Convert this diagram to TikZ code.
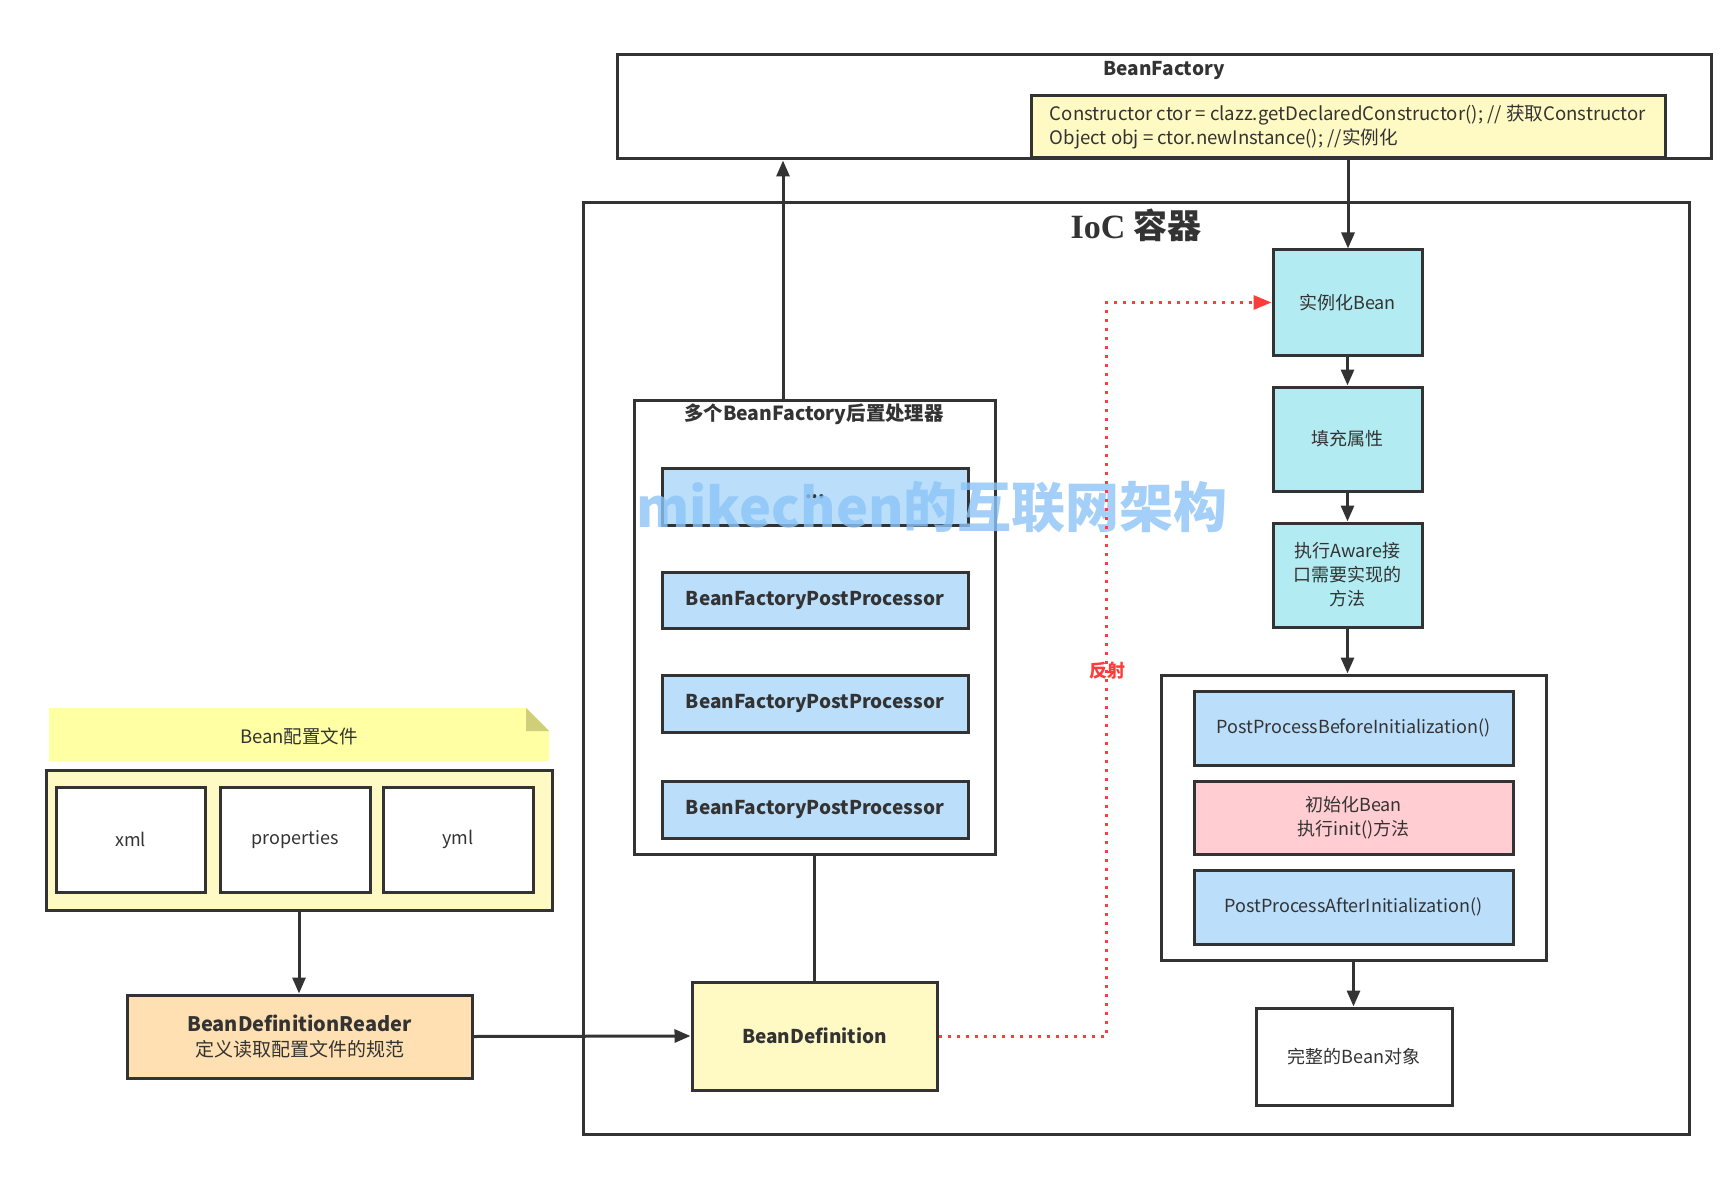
\documentclass[tikz,border=0pt]{standalone}
\usepackage{fontspec}
\setmainfont{Noto Sans CJK SC}
\newfontfamily\iocserif{Liberation Serif}
\usetikzlibrary{arrows.meta,calc}
\definecolor{ink}{HTML}{333333}
\definecolor{bluebox}{HTML}{BBDEFB}
\definecolor{cyanbox}{HTML}{B2EBF2}
\definecolor{pinkbox}{HTML}{FFCDD2}
\definecolor{yelbox}{HTML}{FFF9C4}
\definecolor{peachbox}{HTML}{FFE0B2}
\definecolor{notefill}{HTML}{FFFFA3}
\definecolor{notefold}{HTML}{CFCF7A}
\definecolor{redline}{HTML}{FF3B3B}
\definecolor{wmark}{HTML}{8CC4F8}
\tikzset{
  bx/.style={draw=ink, line width=3pt, rectangle, inner sep=0pt, text=ink, font=\fontsize{18}{24}\selectfont, align=center},
  bold/.style={font=\fontsize{19}{24}\selectfont\bfseries},
  arr/.style={draw=ink, line width=3pt, -{Triangle[length=16pt,width=13pt]}},
  plain/.style={draw=ink, line width=3pt},
  reddot/.style={draw=redline, line width=3pt, dash pattern=on 3pt off 6pt, -{Triangle[length=18pt,width=14pt]}},
}
\begin{document}
\begin{tikzpicture}[x=1pt,y=-1pt]
\useasboundingbox[fill=white] (0,0) rectangle (1722,1185);
% BeanFactory
\node[bx, minimum width=1094pt, minimum height=104pt] (bf) at (1164,107) {};
\node[text=ink, font=\fontsize{19}{24}\selectfont\bfseries] (bftitle) at (1164,71) {BeanFactory};
\node[bx, fill=yelbox, minimum width=634pt, minimum height=62pt, align=left, font=\fontsize{18.6}{24}\selectfont] (code) at (1348,127)
  {Constructor ctor = clazz.getDeclaredConstructor(); // 获取Constructor\\Object obj = ctor.newInstance(); //实例化};
% IoC container
\node[bx, minimum width=1106pt, minimum height=931pt] (ioc) at (1136,668.5) {};
\node[text=ink, font=\fontsize{34}{38}\selectfont\bfseries] (ioctitle) at (1136,225) {{\iocserif IoC} 容器};
% processors group
\node[bx, minimum width=361pt, minimum height=454pt] (grp1) at (814.5,627) {};
\node[text=ink, font=\fontsize{19.4}{24}\selectfont\bfseries] (grp1title) at (814,414) {多个BeanFactory后置处理器};
\node[bx, bold, fill=bluebox, minimum width=306pt, minimum height=57pt] (dots) at (815,496.5) {...};
\node[bx, bold, fill=bluebox, minimum width=306pt, minimum height=56pt] (p1) at (815,600) {BeanFactoryPostProcessor};
\node[bx, bold, fill=bluebox, minimum width=306pt, minimum height=57pt] (p2) at (815,703.5) {BeanFactoryPostProcessor};
\node[bx, bold, fill=bluebox, minimum width=306pt, minimum height=57pt] (p3) at (815,809.5) {BeanFactoryPostProcessor};
% BeanDefinition
\node[bx, bold, fill=yelbox, minimum width=245pt, minimum height=108pt] (bd) at (814.5,1036) {BeanDefinition};
% Reader
\node[bx, fill=peachbox, minimum width=345pt, minimum height=83pt, font=\fontsize{19}{25}\selectfont] (reader) at (299.5,1036.5)
  {{\fontsize{20}{25}\selectfont\bfseries BeanDefinitionReader}\\定义读取配置文件的规范};
% config note
\fill[notefill] (49,708) -- (526,708) -- (549,731) -- (549,761) -- (49,761) -- cycle;
\fill[notefold] (526,708) -- (549,731) -- (526,731) -- cycle;
\node[text=ink, font=\fontsize{18.5}{24}\selectfont] (note) at (299,736) {Bean配置文件};
\node[bx, fill=yelbox, minimum width=506pt, minimum height=140pt] (cfg) at (299,840) {};
\node[bx, fill=white, minimum width=149pt, minimum height=105pt] (xml) at (130.5,839.5) {xml};
\node[bx, fill=white, minimum width=150pt, minimum height=105pt] (prop) at (295,839.5) {properties};
\node[bx, fill=white, minimum width=150pt, minimum height=105pt] (yml) at (458,839.5) {yml};
% right column
\node[bx, fill=cyanbox, minimum width=149pt, minimum height=105pt] (inst) at (1347.5,302.5) {实例化Bean};
\node[bx, fill=cyanbox, minimum width=149pt, minimum height=104pt] (fillp) at (1347.5,439) {填充属性};
\node[bx, fill=cyanbox, minimum width=149pt, minimum height=104pt] (aware) at (1347.5,575) {执行Aware接\\口需要实现的\\方法};
\node[bx, minimum width=385pt, minimum height=285pt] (grp2) at (1353.5,817.5) {};
\node[bx, fill=bluebox, minimum width=319pt, minimum height=74pt] (before) at (1353.5,728) {PostProcessBeforeInitialization()};
\node[bx, fill=pinkbox, minimum width=319pt, minimum height=73pt] (init) at (1353.5,817.5) {初始化Bean\\执行init()方法};
\node[bx, fill=bluebox, minimum width=319pt, minimum height=74pt] (after) at (1353.5,907) {PostProcessAfterInitialization()};
\node[bx, fill=white, minimum width=196pt, minimum height=97pt] (full) at (1354,1056.5) {完整的Bean对象};
% watermark
\node[text=wmark, opacity=0.8, font=\fontsize{54}{60}\selectfont\bfseries] (wm) at (932,507) {mikechen的互联网架构};
% connectors
\draw[arr] ([xshift=-31.5pt]grp1.north) -- ([xshift=-31.5pt]grp1.north |- bf.south);
\draw[arr] (code.south) -- (code.south |- inst.north);
\draw[arr] (inst.south) -- (fillp.north);
\draw[arr] (fillp.south) -- (aware.north);
\draw[arr] (aware.south) -- (aware.south |- grp2.north);
\draw[arr] (grp2.south) -- (grp2.south |- full.north);
\draw[arr] (cfg.south) -- (cfg.south |- reader.north);
\draw[arr] (reader.east) -- (bd.west);
\draw[plain] (bd.north) -- (grp1.south);
\draw[reddot] (bd.east) -- ++(168,0) coordinate (rc) |- (inst.west);
\node[text=redline, font=\fontsize{18}{24}\selectfont\bfseries] (fanshe) at (1107,671) {反射};
\end{tikzpicture}
\end{document}
